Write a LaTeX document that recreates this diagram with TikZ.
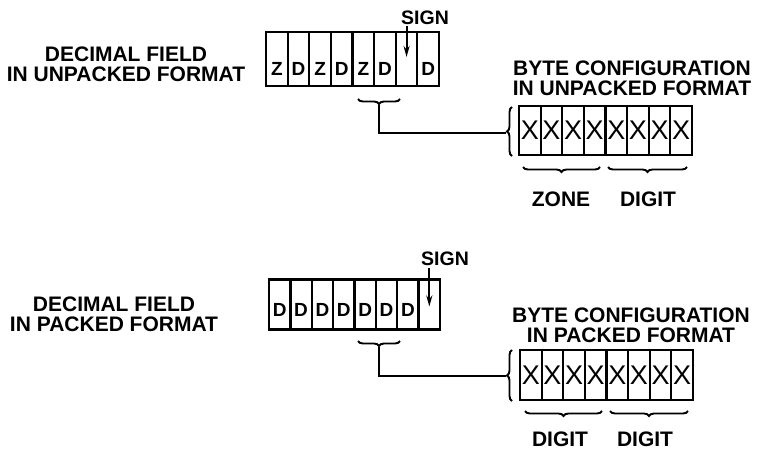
\documentclass[tikz,border=0pt]{standalone}
\usepackage{fontspec}
\setmainfont{Liberation Sans}
\usetikzlibrary{decorations.pathreplacing,arrows.meta}
\begin{document}
\begin{tikzpicture}[x=1pt,y=-1pt,
  lbl/.style={font=\fontsize{21}{20}\selectfont\bfseries, align=center, inner sep=0pt},
  signlbl/.style={font=\fontsize{19.5}{19}\selectfont\bfseries, inner sep=0pt},
  fcell/.style={draw, line width=2.2pt, minimum width=21.6pt, inner sep=0pt, text depth=0pt,
    font=\fontsize{19}{19}\selectfont\bfseries},
  bcell/.style={draw, line width=2.2pt, minimum width=21.6pt, inner sep=0pt,
    font=\fontsize{27}{27}\selectfont},
  brc/.style={decorate, decoration={brace, amplitude=5pt}, line width=1.9pt},
  conn/.style={line width=2.2pt},
  signarrow/.style={line width=2pt, -{Stealth[length=11pt,width=6pt]}}
]
\useasboundingbox (0,0) rectangle (757,450);

% ---------- unpacked ----------
\node[lbl] (ulab) at (126,64) {DECIMAL FIELD\\IN UNPACKED FORMAT};
\foreach \l [count=\i] in {Z,D,Z,D,Z,D,{},D}
  \node[fcell, minimum height=54pt, text height=32pt] (u\i) at ({266+(\i-0.5)*21.625},59) {\l};
\node[signlbl] (usign) at (425,18) {SIGN};
\draw[signarrow] (usign.south -| u7.center) ++(0,1) -- ([yshift=2pt]u7.center);

\node[lbl] (ublab) at (632,78) {BYTE CONFIGURATION\\IN UNPACKED FORMAT};
\foreach \i in {1,...,8}
  \node[bcell, minimum height=49pt] (ub\i) at ({519+(\i-0.5)*21.625},130.5) {X};

\draw[brc] (400,99) -- (358,99);
\coordinate (utip) at (379,105);
\draw[brc] (512,156) -- (512,107);
\coordinate (ubtip) at (506,133);
\draw[conn] (utip) |- (ubtip);

\draw[brc] (600,167) -- (523,167);
\draw[brc] (687,167) -- (608,167);
\node[lbl] (zone) at (561,199) {ZONE};
\node[lbl] (udigit) at (648,199) {DIGIT};

% ---------- packed ----------
\node[lbl] (plab) at (114,314) {DECIMAL FIELD\\IN PACKED FORMAT};
\foreach \l [count=\i] in {D,D,D,D,D,D,D,{}}
  \node[fcell, minimum height=50pt, text height=24pt] (p\i) at ({269+(\i-0.5)*21.375},304.5) {\l};
\node[signlbl] (psign) at (445,259) {SIGN};
\draw[signarrow] (psign.south -| p8.center) ++(0,2) -- ([yshift=-2pt]p8.center);

\node[lbl] (pblab) at (631,325.5) {BYTE CONFIGURATION\\IN PACKED FORMAT};
\foreach \i in {1,...,8}
  \node[bcell, minimum height=50pt] (pb\i) at ({520+(\i-0.5)*21.625},375) {X};

\draw[brc] (400,341) -- (358,341);
\coordinate (ptip) at (379,347);
\draw[brc] (512,401) -- (512,350);
\coordinate (pbtip) at (506,376);
\draw[conn] (ptip) |- (pbtip);

\draw[brc] (602,411) -- (525,411);
\draw[brc] (688,411) -- (610,411);
\node[lbl] (pdigit1) at (560,439) {DIGIT};
\node[lbl] (pdigit2) at (645,439) {DIGIT};
\end{tikzpicture}
\end{document}
